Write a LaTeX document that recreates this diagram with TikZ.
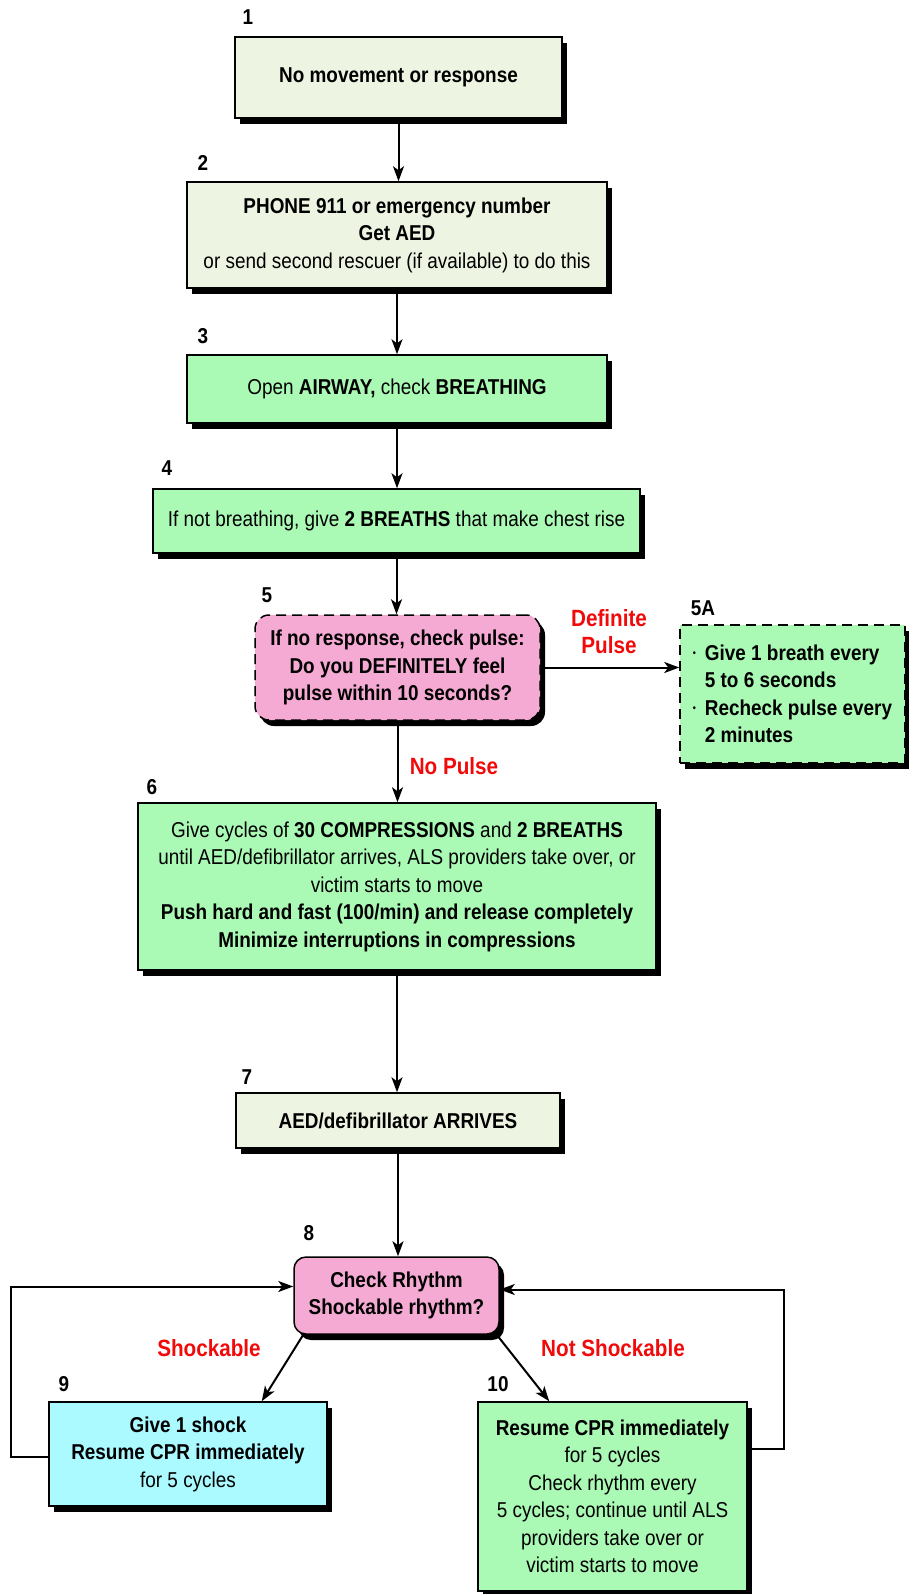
\documentclass[tikz,border=0pt]{standalone}
\usepackage{fontspec}
\setmainfont{Liberation Sans}[FakeStretch=0.88]
\usetikzlibrary{arrows.meta, shadows, calc}
\definecolor{Cream}{RGB}{238, 244, 226}
\definecolor{Mint}{RGB}{170, 250, 182}
\definecolor{Blush}{RGB}{245, 170, 212}
\definecolor{Aqua}{RGB}{170, 250, 255}
\definecolor{Alert}{RGB}{240, 10, 10}
\newcommand{\bulletdot}{\makebox[12pt][l]{\raisebox{0.35ex}{\fontsize{10}{10}\selectfont\textbullet}}}
\tikzset{
  stepbox/.style={draw, line width=1.5pt, align=center, inner sep=0pt,
    font=\fontsize{21.5}{27.5}\selectfont,
    drop shadow={shadow xshift=5pt, shadow yshift=-6pt, fill=black, opacity=1}},
  checkbox/.style={stepbox, dash pattern=on 10pt off 6pt},
  flow/.style={-{Stealth[length=15pt, width=11pt, inset=4pt]}, line width=2pt},
  numlabel/.style={font=\fontsize{21.5}{21.5}\selectfont\bfseries, inner sep=0pt},
  redlabel/.style={font=\fontsize{23.5}{27}\selectfont\bfseries, text=Alert, align=center, inner sep=0pt}
}
\begin{document}
\begin{tikzpicture}[x=1pt, y=-1pt]
  \useasboundingbox (0,0) rectangle (908,1594);

  % 1 - no response
  \node[numlabel] (l1) at (248,17) {1};
  \node[stepbox, fill=Cream, minimum width=327pt, minimum height=81pt] (n1) at (398.5,77.5)
    {\textbf{No movement or response}};

  % 2 - phone
  \node[numlabel] (l2) at (203,163) {2};
  \node[stepbox, fill=Cream, minimum width=420pt, minimum height=106pt] (n2) at (397,235)
    {\textbf{PHONE 911 or emergency number}\\ \textbf{Get AED}\\ or send second rescuer (if available) to do this};

  % 3 - airway
  \node[numlabel] (l3) at (203,336) {3};
  \node[stepbox, fill=Mint, minimum width=420pt, minimum height=68pt] (n3) at (397,389)
    {Open \textbf{AIRWAY,} check \textbf{BREATHING}};

  % 4 - breaths
  \node[numlabel] (l4) at (167,468) {4};
  \node[stepbox, fill=Mint, minimum width=487pt, minimum height=64pt] (n4) at (396.5,521)
    {If not breathing, give \textbf{2 BREATHS} that make chest rise};

  % 5 - pulse check
  \node[numlabel] (l5) at (267,595) {5};
  \node[checkbox, fill=Blush, rounded corners=14pt, minimum width=285pt, minimum height=105pt] (n5) at (397.5,667.5)
    {\textbf{If no response, check pulse:}\\ \textbf{Do you DEFINITELY feel}\\ \textbf{pulse within 10 seconds?}};

  % 5A - rescue breathing
  \node[numlabel] (l5a) at (703,608) {5A};
  \node[checkbox, fill=Mint, align=left, minimum width=225pt, minimum height=138pt] (n5a) at (792.5,694)
    {\bfseries\bulletdot Give 1 breath every\\ \bfseries\hspace*{12pt}5 to 6 seconds\\
     \bfseries\bulletdot Recheck pulse every\\ \bfseries\hspace*{12pt}2 minutes};

  % 6 - compressions
  \node[numlabel] (l6) at (152,787) {6};
  \node[stepbox, fill=Mint, minimum width=518pt, minimum height=167pt] (n6) at (397,886.5)
    {Give cycles of \textbf{30 COMPRESSIONS} and \textbf{2 BREATHS}\\
     until AED/defibrillator arrives, ALS providers take over, or\\
     victim starts to move\\
     \textbf{Push hard and fast (100/min) and release completely}\\
     \textbf{Minimize interruptions in compressions}};

  % 7 - AED arrives
  \node[numlabel] (l7) at (247,1077) {7};
  \node[stepbox, fill=Cream, minimum width=324pt, minimum height=55pt] (n7) at (398,1120.5)
    {\textbf{AED/defibrillator ARRIVES}};

  % 8 - rhythm check
  \node[numlabel] (l8) at (309,1233) {8};
  \node[stepbox, fill=Blush, rounded corners=12pt, minimum width=205pt, minimum height=77pt] (n8) at (396.5,1295.5)
    {\textbf{Check Rhythm}\\ \textbf{Shockable rhythm?}};

  % 9 - shock
  \node[numlabel] (l9) at (64,1384) {9};
  \node[stepbox, fill=Aqua, minimum width=278pt, minimum height=104pt] (n9) at (188,1454)
    {\textbf{Give 1 shock}\\ \textbf{Resume CPR immediately}\\ for 5 cycles};

  % 10 - resume CPR
  \node[numlabel] (l10) at (498,1384) {10};
  \node[stepbox, fill=Mint, minimum width=269pt, minimum height=189pt] (n10) at (612.5,1496.5)
    {\textbf{Resume CPR immediately}\\ for 5 cycles\\ Check rhythm every\\
     5 cycles; continue until ALS\\ providers take over or\\ victim starts to move};

  % Branch labels
  \node[redlabel] (definite) at (609,632) {Definite\\Pulse};
  \node[redlabel] (nopulse) at (454,766) {No Pulse};
  \node[redlabel] (shock) at (209,1348) {Shockable};
  \node[redlabel] (noshock) at (613,1348) {Not Shockable};

  % Arrows down
  \draw[flow] (n1.south) -- (n1.south |- n2.north);
  \draw[flow] (n2.south) -- (n2.south |- n3.north);
  \draw[flow] (n3.south) -- (n3.south |- n4.north);
  \draw[flow] (n4.south) -- (n4.south |- n5.north);
  \draw[flow] (n5.east) -- (n5.east -| n5a.west);
  \draw[flow] (n5.south) -- (n5.south |- n6.north);
  \draw[flow] (n6.south) -- (n6.south |- n7.north);
  \draw[flow] (n7.south) -- (n7.south |- n8.north);
  \draw[flow] ([xshift=10pt]n8.south west) -- ([xshift=-66pt]n9.north east);
  \draw[flow] ([xshift=-3pt]n8.south east) -- ([xshift=72pt]n10.north west);

  % Loops back to rhythm check
  \draw[flow] ([yshift=-3pt]n9.west) -- ++(-37,0) |- ([yshift=9pt]n8.west);
  \draw[flow] ([yshift=48pt]n10.east) -- ++(36,0) |- ([yshift=6pt]n8.east);
\end{tikzpicture}
\end{document}
